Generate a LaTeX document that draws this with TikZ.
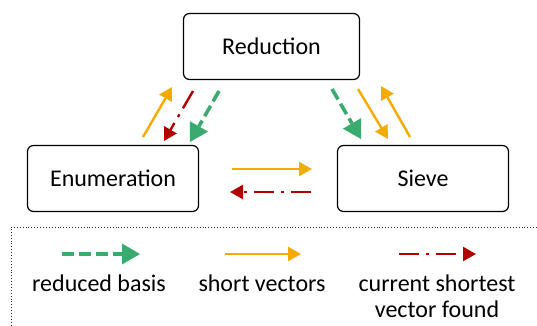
\documentclass[tikz,border=0pt]{standalone}
\usepackage{fontspec}
\setmainfont{Carlito}
\usetikzlibrary{arrows.meta}
\definecolor{flowgreen}{RGB}{58,170,110}
\definecolor{floworange}{RGB}{245,170,0}
\definecolor{flowred}{RGB}{176,0,0}
\tikzset{
  stage/.style={draw=black, line width=1.2pt, rounded corners=6pt, fill=white,
    minimum width=171pt, minimum height=66pt, font=\fontsize{24}{28}\selectfont},
  basisflow/.style={draw=flowgreen, line width=3.6pt,
    dash pattern=on 12pt off 5pt,
    -{Triangle[length=18pt,width=21pt,line width=0pt]}},
  shortflow/.style={draw=floworange, line width=2.4pt,
    -{Triangle[length=13pt,width=14pt]}},
  bestflow/.style={draw=flowred, line width=2.4pt,
    dash pattern=on 20pt off 7pt on 3pt off 7pt,
    -{Triangle[length=13pt,width=14pt]}},
  legendtext/.style={font=\fontsize{24}{28}\selectfont, align=center}
}
\begin{document}
\begin{tikzpicture}[x=1pt,y=-1pt]
\useasboundingbox (0,0) rectangle (537,325);
% the three stages
\node[stage, minimum width=176pt] (red) at (271.5,46.5) {Reduction};
\node[stage] (enum) at (113,178.5) {Enumeration};
\node[stage] (sieve) at (423,178.5) {Sieve};
% end points of the exchanges between stages
\coordinate (a1) at (143,137); \coordinate (a2) at (172,87);
\coordinate (b1) at (193,91);  \coordinate (b2) at (164,141);
\coordinate (c1) at (219,91);  \coordinate (c2) at (190,142);
\coordinate (d1) at (332,89);  \coordinate (d2) at (361,139);
\coordinate (e1) at (358,89);  \coordinate (e2) at (388,139);
\coordinate (f1) at (410,137); \coordinate (f2) at (381,86);
\coordinate (g1) at (232,169); \coordinate (g2) at (312,169);
\coordinate (h1) at (311,192); \coordinate (h2) at (230,192);
\draw[shortflow] (a1) -- (a2);
\draw[bestflow]  (b1) -- (b2);
\draw[basisflow] (c1) -- (c2);
\draw[basisflow] (d1) -- (d2);
\draw[shortflow] (e1) -- (e2);
\draw[shortflow] (f1) -- (f2);
\draw[shortflow] (g1) -- (g2);
\draw[bestflow]  (h1) -- (h2);
% legend frame
\draw[gray!40!black, line width=0.9pt, dotted] (11,340) -- (11,227) -- (545,227);
% legend entries
\coordinate (l1a) at (62,254);  \coordinate (l1b) at (140,254);
\coordinate (l2a) at (225,254); \coordinate (l2b) at (301,254);
\coordinate (l3a) at (399,254); \coordinate (l3b) at (476,254);
\draw[basisflow] (l1a) -- (l1b);
\draw[shortflow] (l2a) -- (l2b);
\draw[bestflow]  (l3a) -- (l3b);
\node[legendtext] (t1) at (99,283) {reduced basis};
\node[legendtext] (t2) at (262,283) {short vectors};
\node[legendtext, text depth=0pt] (t3) at (437,296) {current shortest\\[-2pt]vector found};
\end{tikzpicture}
\end{document}
